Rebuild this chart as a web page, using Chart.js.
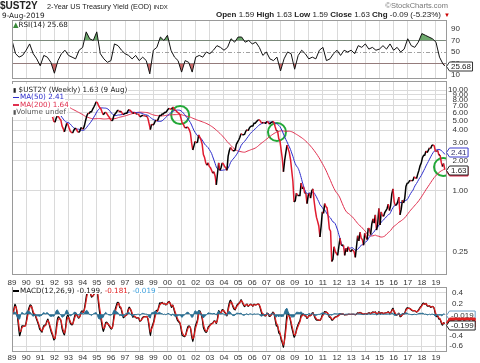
<!DOCTYPE html>
<html>
<head>
<meta charset="utf-8">
<script src="https://cdn.jsdelivr.net/npm/chart.js@4.4.1/dist/chart.umd.min.js"></script>
<style>
  body { margin: 0; width: 480px; height: 363px; overflow: hidden; position: relative; background: #fff; font-family: Arial, "Liberation Sans", sans-serif; }
  canvas { position: absolute; left: 0; top: 0; }
  .t { position: absolute; white-space: nowrap; color: #222; line-height: 1; }
  .lg { font-family: "DejaVu Sans", Verdana, sans-serif; font-size: 7.2px; line-height: 7.4px; }
  .lg div { background: #fff; width: fit-content; padding-right: 1px; }
  .ln { display: inline-block; width: 6px; height: 1.5px; vertical-align: middle; margin-right: 1px; }
</style>
</head>
<body>
<canvas id="rsi" width="480" height="363"></canvas>
<canvas id="main" width="480" height="363"></canvas>
<canvas id="macd" width="480" height="363"></canvas>

<div class="t" style="left:0;top:1px;font-weight:bold;font-size:10px">$UST2Y</div>
<div class="t" style="left:47px;top:3px;font-size:7.3px">2-Year US Treasury Yield (EOD) <span style="font-size:6px">INDX</span></div>
<div class="t" style="right:32px;top:2px;font-size:7.5px;color:#777">&copy;StockCharts.com</div>
<div class="t" style="left:2px;top:12px;font-family:'DejaVu Sans';font-size:7.3px">9-Aug-2019</div>
<div class="t" style="right:39px;top:11px;font-size:8px"><b>Open</b> 1.59 <b>High</b> 1.63 <b>Low</b> 1.59 <b>Close</b> 1.63 <b>Chg</b> -0.09 (-5.23%)</div>
<div class="t" style="left:444px;top:12px;font-size:6px;color:#c00">&#9660;</div>

<div class="t lg" style="left:13px;top:21px"><span style="color:#3a8a3a">&#9650;</span>RSI(14) 25.68</div>

<div class="t" style="left:12px;top:84px;width:41px;height:33px;background:#fff"></div>
<div class="t lg" style="left:13px;top:86px">
  <div><span style="font-size:6px">&#9646;</span> $UST2Y (Weekly) 1.63 (9 Aug)</div>
  <div style="color:#2c2ccc"><span class="ln" style="background:#2c2ccc"></span>MA(50) 2.41</div>
  <div style="color:#e0304f"><span class="ln" style="background:#e0304f"></span>MA(200) 1.64</div>
  <div style="color:#555"><span style="font-size:6px">&#9646;</span>Volume undef</div>
</div>

<div class="t lg" style="left:13px;top:287px;padding-right:2px;background:#fff"><span class="ln" style="background:#000"></span>MACD(12,26,9) -0.199, <span style="color:#e02020">-0.181</span>, <span style="color:#3fa0dc">-0.019</span></div>

<script>
// monthly closes, Jan 1989 .. Aug 2019
const startYear = 1989;
const yields = [
  9.07, 9.43, 9.77, 9.51, 9.05, 8.37, 7.83, 8.13, 8.26, 7.97, 7.81, 7.75,   // 1989
  8.12, 8.42, 8.60, 8.77, 8.74, 8.43, 8.33, 8.44, 8.14, 7.95, 7.68, 7.31,   // 1990
  7.13, 6.87, 7.10, 6.95, 6.78, 6.96, 6.92, 6.45, 6.09, 5.72, 5.40, 4.90,   // 1991
  4.80, 5.25, 5.55, 5.45, 5.20, 5.05, 4.40, 4.15, 3.85, 4.25, 4.70, 4.55,   // 1992
  4.20, 3.90, 3.80, 3.75, 4.00, 4.15, 4.15, 3.90, 3.80, 3.90, 4.20, 4.20,   // 1993
  4.10, 4.45, 5.00, 5.55, 5.90, 5.85, 6.10, 6.10, 6.45, 6.80, 7.20, 7.65,   // 1994
  7.50, 7.00, 6.70, 6.50, 6.05, 5.70, 5.90, 6.05, 5.85, 5.60, 5.40, 5.15,   // 1995
  4.95, 5.05, 5.60, 5.80, 6.00, 6.25, 6.30, 6.05, 6.20, 5.90, 5.70, 5.85,   // 1996
  5.90, 5.90, 6.25, 6.40, 6.25, 6.10, 5.85, 6.00, 5.90, 5.80, 5.80, 5.75,   // 1997
  5.45, 5.50, 5.60, 5.60, 5.55, 5.50, 5.50, 5.20, 4.60, 4.05, 4.60, 4.50,   // 1998
  4.60, 4.90, 5.05, 4.95, 5.30, 5.60, 5.60, 5.80, 5.80, 6.00, 6.00, 6.20,   // 1999
  6.45, 6.60, 6.50, 6.45, 6.80, 6.50, 6.35, 6.20, 6.00, 5.90, 5.75, 5.25,   // 2000
  4.70, 4.60, 4.30, 4.20, 4.30, 4.25, 4.05, 3.75, 3.00, 2.55, 2.80, 3.10,   // 2001
  3.00, 3.05, 3.60, 3.40, 3.20, 2.90, 2.30, 2.15, 1.90, 1.80, 1.90, 1.75,   // 2002
  1.70, 1.60, 1.50, 1.55, 1.40, 1.15, 1.50, 1.90, 1.60, 1.70, 1.90, 1.85,   // 2003
  1.75, 1.70, 1.60, 2.20, 2.50, 2.70, 2.60, 2.50, 2.50, 2.55, 2.90, 3.05,   // 2004
  3.20, 3.40, 3.70, 3.60, 3.60, 3.65, 3.90, 4.05, 3.95, 4.20, 4.35, 4.40,   // 2005
  4.40, 4.70, 4.70, 4.85, 5.00, 5.10, 5.00, 4.80, 4.70, 4.80, 4.70, 4.70,   // 2006
  4.90, 4.80, 4.60, 4.70, 4.80, 4.90, 4.75, 4.30, 3.95, 3.95, 3.30, 3.15,   // 2007
  2.55, 2.10, 1.55, 2.00, 2.40, 2.85, 2.60, 2.40, 2.05, 1.60, 1.25, 0.78,   // 2008
  0.80, 0.95, 0.90, 0.90, 0.90, 1.20, 1.05, 1.10, 0.95, 0.95, 0.75, 0.90,   // 2009
  0.95, 0.85, 1.00, 1.05, 0.80, 0.65, 0.55, 0.50, 0.45, 0.35, 0.45, 0.62,   // 2010
  0.60, 0.75, 0.70, 0.68, 0.55, 0.42, 0.40, 0.20, 0.21, 0.28, 0.25, 0.24,   // 2011
  0.23, 0.28, 0.34, 0.29, 0.29, 0.29, 0.23, 0.27, 0.25, 0.28, 0.26, 0.25,   // 2012
  0.26, 0.26, 0.25, 0.22, 0.28, 0.36, 0.32, 0.39, 0.34, 0.33, 0.29, 0.38,   // 2013
  0.35, 0.33, 0.43, 0.42, 0.37, 0.47, 0.53, 0.48, 0.58, 0.41, 0.47, 0.67,   // 2014
  0.46, 0.62, 0.57, 0.56, 0.61, 0.64, 0.67, 0.74, 0.64, 0.72, 0.93, 1.05,   // 2015
  0.78, 0.72, 0.73, 0.78, 0.87, 0.58, 0.66, 0.81, 0.76, 0.85, 1.11, 1.19,   // 2016
  1.20, 1.26, 1.27, 1.26, 1.28, 1.38, 1.35, 1.33, 1.47, 1.60, 1.78, 1.89,   // 2017
  2.14, 2.25, 2.27, 2.49, 2.40, 2.53, 2.67, 2.63, 2.82, 2.87, 2.80, 2.49,   // 2018
  2.46, 2.52, 2.26, 2.27, 1.92, 1.75, 1.87, 1.63                            // 2019
];

const rsiValues = [
  70, 47, 41, 44,  53, 64, 47, 38,  26, 44, 41, 32,  13, 35, 47, 53,   // 89-92
  44, 41, 38, 53,  58, 85, 73, 70,  85, 47, 38, 32,  35, 64, 61, 53,   // 93-96
  47, 44, 38, 44,  35, 41, 35, 12,  53, 58, 76, 70,  79, 53, 41, 35,   // 97-00
  15, 35, 32, 15,  41, 44, 41, 50,  47, 53, 61, 58,  53, 58, 73, 67,   // 01-04
  76, 76, 67, 70,  64, 67, 58, 44,  50, 38, 35, 41,  17, 38, 50, 47,   // 05-08
  20, 44, 53, 47,  38, 41, 38, 53,  58, 35, 38, 47,  53, 44, 53, 50,   // 09-12
  53, 47, 61, 58,  64, 55, 58, 53,  55, 61, 55, 64,  53, 58, 50, 55,   // 13-16
  73, 61, 58, 67,  82, 79, 76, 73,  67, 41, 29, 25.68                  // 17-19
];

const yearLabels = ['89','90','91','92','93','94','95','96','97','98','99','00','01','02','03','04','05','06','07','08','09','10','11','12','13','14','15','16','17','18','19'];
const priceTicks = [10, 9, 8, 7, 6, 5, 4, 3, 2, 1, 0.25];
const rsiTicks = [90, 70, 50, 30, 10];
const macdTicks = [0.4, 0.2, 0, -0.2, -0.4, -0.6];

// green circles where the averages cross
const crossYears = [2000.9, 2007.75, 2019.5];
const crossValues = [5.65, 3.84, 1.73];

// last values shown in the legends / axis tags
const lastClose = 1.63, lastMa50 = 2.41, lastMa200 = 1.64;
const lastRsi = 25.68;
const lastMacd = -0.199, lastSignal = -0.181, lastHist = -0.019;

// weekly indicator periods expressed in months
const WEEKS = 52 / 12;
const ma50n = Math.round(50 / WEEKS), ma200n = Math.round(200 / WEEKS);

const xs = yields.map((_, i) => startYear + (i + 0.5) / 12);
const lastDate = xs[xs.length - 1];
const rsiXs = rsiValues.map((_, i) => Math.min(startYear + i / 4, lastDate));

function sma(a, n) {
  return a.map((_, i) => i < n - 1 ? null : a.slice(i - n + 1, i + 1).reduce((s, v) => s + v, 0) / n);
}
function ema(a, n) {
  const k = 2 / (n + 1); let e = a[0];
  return a.map(v => (e = v * k + e * (1 - k)));
}

const ma50 = sma(yields, ma50n);
const ma200 = sma(yields, ma200n);
const fast = ema(yields, 12 / WEEKS), slow = ema(yields, 26 / WEEKS);
const macdLine = fast.map((v, i) => v - slow[i]);
const signal = ema(macdLine, 9 / WEEKS);
const hist = macdLine.map((v, i) => v - signal[i]);

const pts = arr => arr.map((v, i) => ({ x: xs[i], y: v }));
const rsiPts = rsiValues.map((v, i) => ({ x: rsiXs[i], y: v }));

Chart.defaults.font.family = 'Arial, "Liberation Sans", sans-serif';
Chart.defaults.font.size = 8;
Chart.defaults.color = '#333';
Chart.defaults.animation = false;

const GRID = '#dadada';

const frame = {
  id: 'frame',
  afterDraw(chart) {
    const { ctx, chartArea: a } = chart;
    ctx.save();
    ctx.strokeStyle = '#9a9a9a';
    ctx.lineWidth = 1;
    ctx.strokeRect(a.left + 0.5, a.top + 0.5, a.right - a.left - 1, a.bottom - a.top - 1);
    ctx.restore();
  }
};

// boxed last-value labels on the right axis
function tagPlugin(items) {
  return {
    id: 'tags',
    afterDraw(chart) {
      const { ctx } = chart;
      const y = chart.scales.y;
      ctx.save();
      ctx.font = '8px Arial, "Liberation Sans", sans-serif';
      items.forEach(t => {
        const py = Math.round(y.getPixelForValue(t.value) + t.shift) + 0.5;
        const w = ctx.measureText(t.text).width + 6, h = 9, x0 = 446.5;
        ctx.beginPath();
        ctx.moveTo(x0, py);
        ctx.lineTo(x0 + 3, py - h / 2);
        ctx.lineTo(x0 + w, py - h / 2);
        ctx.lineTo(x0 + w, py + h / 2);
        ctx.lineTo(x0 + 3, py + h / 2);
        ctx.closePath();
        ctx.fillStyle = t.fill;
        ctx.fill();
        ctx.strokeStyle = t.stroke;
        ctx.lineWidth = 1;
        ctx.stroke();
        ctx.fillStyle = t.color;
        ctx.textAlign = 'right';
        ctx.textBaseline = 'middle';
        ctx.fillText(t.text, x0 + w - 1.5, py + 0.5);
      });
      ctx.restore();
    }
  };
}

function guidePlugin(lines) {
  return {
    id: 'guides',
    beforeDatasetsDraw(chart) {
      const { ctx, chartArea: a } = chart;
      const y = chart.scales.y;
      ctx.save();
      lines.forEach(g => {
        const py = Math.round(y.getPixelForValue(g.value)) + 0.5;
        ctx.strokeStyle = g.color;
        ctx.lineWidth = 1;
        ctx.setLineDash(g.dash);
        ctx.beginPath();
        ctx.moveTo(a.left, py);
        ctx.lineTo(a.right, py);
        ctx.stroke();
      });
      ctx.restore();
    }
  };
}

function xScale(showLabels, height, pad) {
  return {
    type: 'linear',
    min: 1989, max: 2019.78,
    afterBuildTicks: s => { s.ticks = yearLabels.map((_, i) => ({ value: startYear + i })); },
    afterFit: s => { s.height = height; s.paddingLeft = 0; s.paddingRight = 0; },
    grid: { color: GRID, drawTicks: false },
    border: { display: false },
    ticks: {
      display: showLabels, padding: pad, maxRotation: 0, autoSkip: false,
      callback: (v, i) => yearLabels[i]
    }
  };
}

function yScale(type, min, max, ticks, fmt, align, pad, showGrid, width) {
  return {
    type, position: 'right', min, max,
    afterBuildTicks: s => { s.ticks = ticks.map(v => ({ value: v })); },
    afterFit: s => { s.width = width; s.paddingTop = 0; s.paddingBottom = 0; },
    grid: { color: GRID, drawTicks: false, display: showGrid },
    border: { display: false },
    ticks: { crossAlign: align, padding: pad, autoSkip: false, callback: fmt, color: '#333' }
  };
}

const tag = (value, text, stroke, fill, color, shift) => ({ value, text, stroke, fill, color, shift });

// ---------- RSI panel ----------
new Chart(document.getElementById('rsi'), {
  type: 'line',
  data: {
    datasets: [
      {
        data: rsiPts, borderColor: '#111', borderWidth: 1, pointRadius: 0, tension: 0,
        fill: { target: { value: 70 }, above: 'rgba(60,140,60,0.75)', below: 'rgba(0,0,0,0)' }
      },
      {
        data: rsiPts, borderColor: 'rgba(0,0,0,0)', borderWidth: 0, pointRadius: 0, tension: 0,
        fill: { target: { value: 30 }, above: 'rgba(0,0,0,0)', below: 'rgba(190,60,60,0.75)' }
      }
    ]
  },
  options: {
    responsive: false,
    layout: { padding: { left: 12, right: 12, top: 20, bottom: 284 } },
    plugins: { legend: { display: false }, tooltip: { enabled: false } },
    scales: {
      x: xScale(false, 0, 0),
      y: yScale('linear', 3, 105.6, rsiTicks, v => v, 'near', 4, false, 21)
    }
  },
  plugins: [
    guidePlugin([
      { value: 70, color: '#8a8a8a', dash: [] }, { value: 30, color: '#8a8a8a', dash: [] },
      { value: 50, color: '#a0a0a0', dash: [4, 2, 1, 2] }
    ]),
    frame,
    tagPlugin([tag(lastRsi, lastRsi.toFixed(2), '#333', '#fff', '#222', 0)])
  ]
});

// ---------- price panel ----------
new Chart(document.getElementById('main'), {
  type: 'line',
  data: {
    datasets: [
      {
        data: pts(yields), borderWidth: 1.5, pointRadius: 0, tension: 0,
        borderColor: '#000',
        segment: { borderColor: c => c.p1.parsed.y >= c.p0.parsed.y ? '#000' : '#e01a2e' }
      },
      { data: pts(ma50), borderColor: '#2c2ccc', borderWidth: 1, pointRadius: 0, tension: 0.3 },
      { data: pts(ma200), borderColor: '#e0304f', borderWidth: 1, pointRadius: 0, tension: 0.3 },
      {
        type: 'scatter',
        data: crossYears.map((x, i) => ({ x, y: crossValues[i] })),
        pointRadius: 9, pointBorderWidth: 2, pointBorderColor: '#22a838',
        pointBackgroundColor: 'rgba(0,0,0,0)'
      }
    ]
  },
  options: {
    responsive: false,
    layout: { padding: { left: 12, right: 12, top: 81, bottom: 76 } },
    plugins: { legend: { display: false }, tooltip: { enabled: false } },
    scales: {
      x: xScale(true, 12, 3),
      y: yScale('logarithmic', 0.147, 12.3, priceTicks, v => Number(v).toFixed(2), 'far', 0, true, 21)
    }
  },
  plugins: [
    frame,
    tagPlugin([
      tag(lastMa50, lastMa50.toFixed(2), '#3a3acc', '#fff', '#333366', 0),
      tag(lastMa200, lastMa200.toFixed(2), '#e0304f', '#e0304f', '#fff', 1.5),
      tag(lastClose, lastClose.toFixed(2), '#222', '#fff', '#222', 0)
    ])
  ]
});

// ---------- MACD panel ----------
new Chart(document.getElementById('macd'), {
  type: 'line',
  data: {
    datasets: [
      {
        data: pts(hist), borderColor: '#2a6f93', backgroundColor: '#2a6f93', borderWidth: 1,
        pointRadius: 0, tension: 0, fill: 'origin'
      },
      { data: pts(signal), borderColor: '#e02020', borderWidth: 1.2, pointRadius: 0, tension: 0.2 },
      { data: pts(macdLine), borderColor: '#000', borderWidth: 1.2, pointRadius: 0, tension: 0.2 }
    ]
  },
  options: {
    responsive: false,
    layout: { padding: { left: 12, right: 17, top: 287, bottom: 0 } },
    plugins: { legend: { display: false }, tooltip: { enabled: false } },
    scales: {
      x: xScale(true, 11, 1),
      y: yScale('linear', -0.713, 0.513, macdTicks, v => Number(v).toFixed(1), 'far', 0, true, 16)
    }
  },
  plugins: [
    frame,
    tagPlugin([
      tag(lastHist, lastHist.toFixed(3), '#6a9cc4', '#fff', '#333', 0),
      tag(lastSignal, lastSignal.toFixed(3), '#e02020', '#e02020', '#fff', -1.5),
      tag(lastMacd, lastMacd.toFixed(3), '#222', '#fff', '#222', 0)
    ])
  ]
});
</script>
</body>
</html>
